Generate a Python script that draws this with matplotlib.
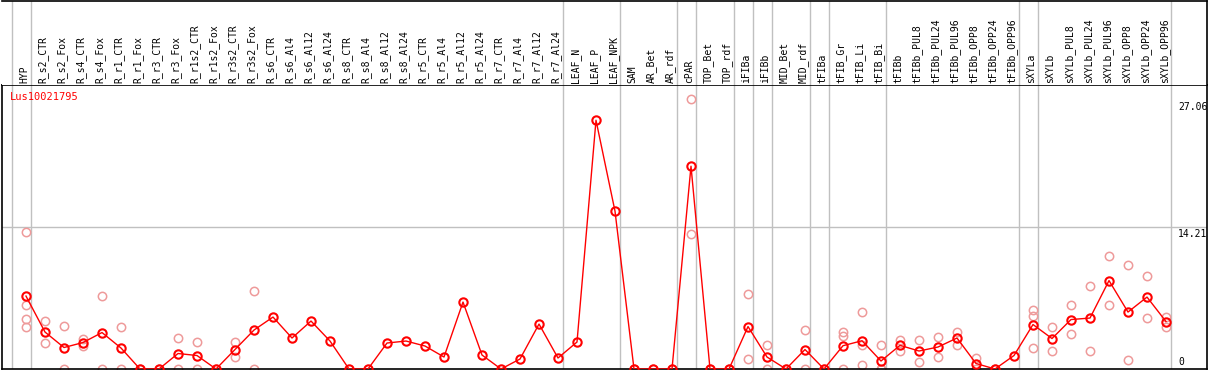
import matplotlib
matplotlib.use('Agg')
import matplotlib.pyplot as plt

gene = 'Lus10021795'

labels = ['HYP', 'R_s2_CTR', 'R_s2_Fox', 'R_s4_CTR', 'R_s4_Fox', 'R_r1_CTR', 'R_r1_Fox',
          'R_r3_CTR', 'R_r3_Fox', 'R_r1s2_CTR', 'R_r1s2_Fox', 'R_r3s2_CTR', 'R_r3s2_Fox',
          'R_s6_CTR', 'R_s6_Al4', 'R_s6_Al12', 'R_s6_Al24', 'R_s8_CTR', 'R_s8_Al4',
          'R_s8_Al12', 'R_s8_Al24', 'R_r5_CTR', 'R_r5_Al4', 'R_r5_Al12', 'R_r5_Al24',
          'R_r7_CTR', 'R_r7_Al4', 'R_r7_Al12', 'R_r7_Al24', 'LEAF_N', 'LEAF_P', 'LEAF_NPK',
          'SAM', 'AR_Bet', 'AR_rdf', 'cPAR', 'TOP_Bet', 'TOP_rdf', 'iFIBa', 'iFIBb',
          'MID_Bet', 'MID_rdf', 'tFIBa', 'tFIB_Gr', 'tFIB_Li', 'tFIB_Bi', 'tFIBb',
          'tFIBb_PUL8', 'tFIBb_PUL24', 'tFIBb_PUL96', 'tFIBb_OPP8', 'tFIBb_OPP24',
          'tFIBb_OPP96', 'sXYLa', 'sXYLb', 'sXYLb_PUL8', 'sXYLb_PUL24', 'sXYLb_PUL96',
          'sXYLb_OPP8', 'sXYLb_OPP24', 'sXYLb_OPP96']

means = [7.3,
         3.7, 2.15, 2.65, 3.65, 2.1, 0, 0, 1.55, 1.35, 0, 1.95, 3.9,
         5.2, 3.1, 4.8, 2.8, 0, 0, 2.6, 2.8, 2.3, 1.2, 6.7, 1.4, 0, 1.0, 4.5, 1.1,
         2.7, 24.9, 15.8,
         0, 0, 0, 20.3, 0, 0, 4.25, 1.2, 0, 1.95, 0, 2.33, 2.83, 0.8,
         2.37, 1.8, 2.2, 3.1, 0.55, 0, 1.35,
         4.45, 3.05, 4.95, 5.1, 8.85, 5.7, 7.2, 4.75]

# individual replicates (only the ones visible apart from the mean)
reps = [[13.7, 6.4, 5.0, 4.2],
        [4.8, 2.6], [4.3, 0], [3.0, 2.3], [7.3, 0], [4.2, 0], [0], [0], [3.1, 0],
        [2.7, 0], [0], [2.7, 1.2], [7.8, 0],
        [], [], [], [], [], [], [], [], [], [], [], [], [], [], [], [],
        [], [], [],
        [0], [0], [0], [27.06, 13.55], [0], [0], [7.5, 1.0], [2.4, 0], [0], [3.95, 0],
        [0], [3.7, 3.3, 0], [5.7, 2.4, 0.4], [2.4, 0, 0],
        [2.9, 1.85], [2.9, 0.7], [3.25, 1.2], [3.75, 2.45], [1.1, 0], [0], [],
        [5.95, 5.3, 2.1], [4.25, 1.85], [6.4, 3.5], [8.35, 1.85], [11.35, 6.4],
        [10.45, 0.95], [9.35, 5.1], [5.2, 4.2]]

# index of last sample in each group (separator drawn after it)
group_ends = [-1, 0, 28, 31, 34, 35, 37, 38, 39, 41, 42, 45, 52, 53, 60]

y_ticks = [0, 14.21, 27.06]

W, H = 1209, 370
x0, dx = 26, 19          # pixel of first sample, pixel step
y_scale = 9.99            # pixels per unit
bottom_px, top_px = 369, 85
left_px, right_px = 2, 1207

xlim = ((left_px - x0) / dx, (right_px - x0) / dx)
ylim = (0, (bottom_px - top_px) / y_scale)

mono = 'DejaVu Sans Mono'
grey = '#c0c0c0'

fig = plt.figure(figsize=(W / 100, H / 100), dpi=100)
ax = fig.add_axes([left_px / W, (H - bottom_px) / H,
                   (right_px - left_px) / W, (bottom_px - top_px) / H])
hax = fig.add_axes([left_px / W, (H - top_px) / H,
                    (right_px - left_px) / W, (top_px - 0.5) / H])

for a in (ax, hax):
    a.set_xlim(*xlim)
    a.set_xticks([])
    a.set_yticks([])
    for s in a.spines.values():
        s.set_color('black')
        s.set_linewidth(1.2)
    for g in group_ends:
        a.axvline(g + 0.247, color=grey, lw=1, zorder=0)

ax.set_ylim(*ylim)
hax.set_ylim(0, 1)
hax.spines['left'].set_visible(False)
hax.spines['bottom'].set_visible(False)

ax.axhline(y_ticks[1], color=grey, lw=1, zorder=0)

# replicates
for i, r in enumerate(reps):
    if r:
        ax.plot([i] * len(r), r, 'o', ms=6, mfc='none', mec='#ee9a9a', mew=1.1, zorder=2)

# mean line
ax.plot(range(len(means)), means, '-', color='red', lw=1, zorder=3)
ax.plot(range(len(means)), means, 'o', ms=6, mfc='none', mec='red', mew=1.5, zorder=4)

# header labels
for i, lab in enumerate(labels):
    hax.text(i - 0.1, 2 / top_px, lab, rotation=90, ha='center', va='bottom',
             fontsize=7, family=mono)

ax.text((10 - left_px) / (right_px - left_px), 1 - 12 / (bottom_px - top_px), gene,
        transform=ax.transAxes, color='red', fontsize=7.5, family=mono, va='center')

tx = (1178 - x0) / dx
ax.text(tx, y_ticks[2] - 0.35, '%.2f' % y_ticks[2], fontsize=7, family=mono, va='top')
ax.text(tx, y_ticks[1] - 0.15, '%.2f' % y_ticks[1], fontsize=7, family=mono, va='top')
ax.text(tx, y_ticks[0] + 0.25, '0', fontsize=7, family=mono, va='bottom')

fig.savefig('out.png', dpi=100)
